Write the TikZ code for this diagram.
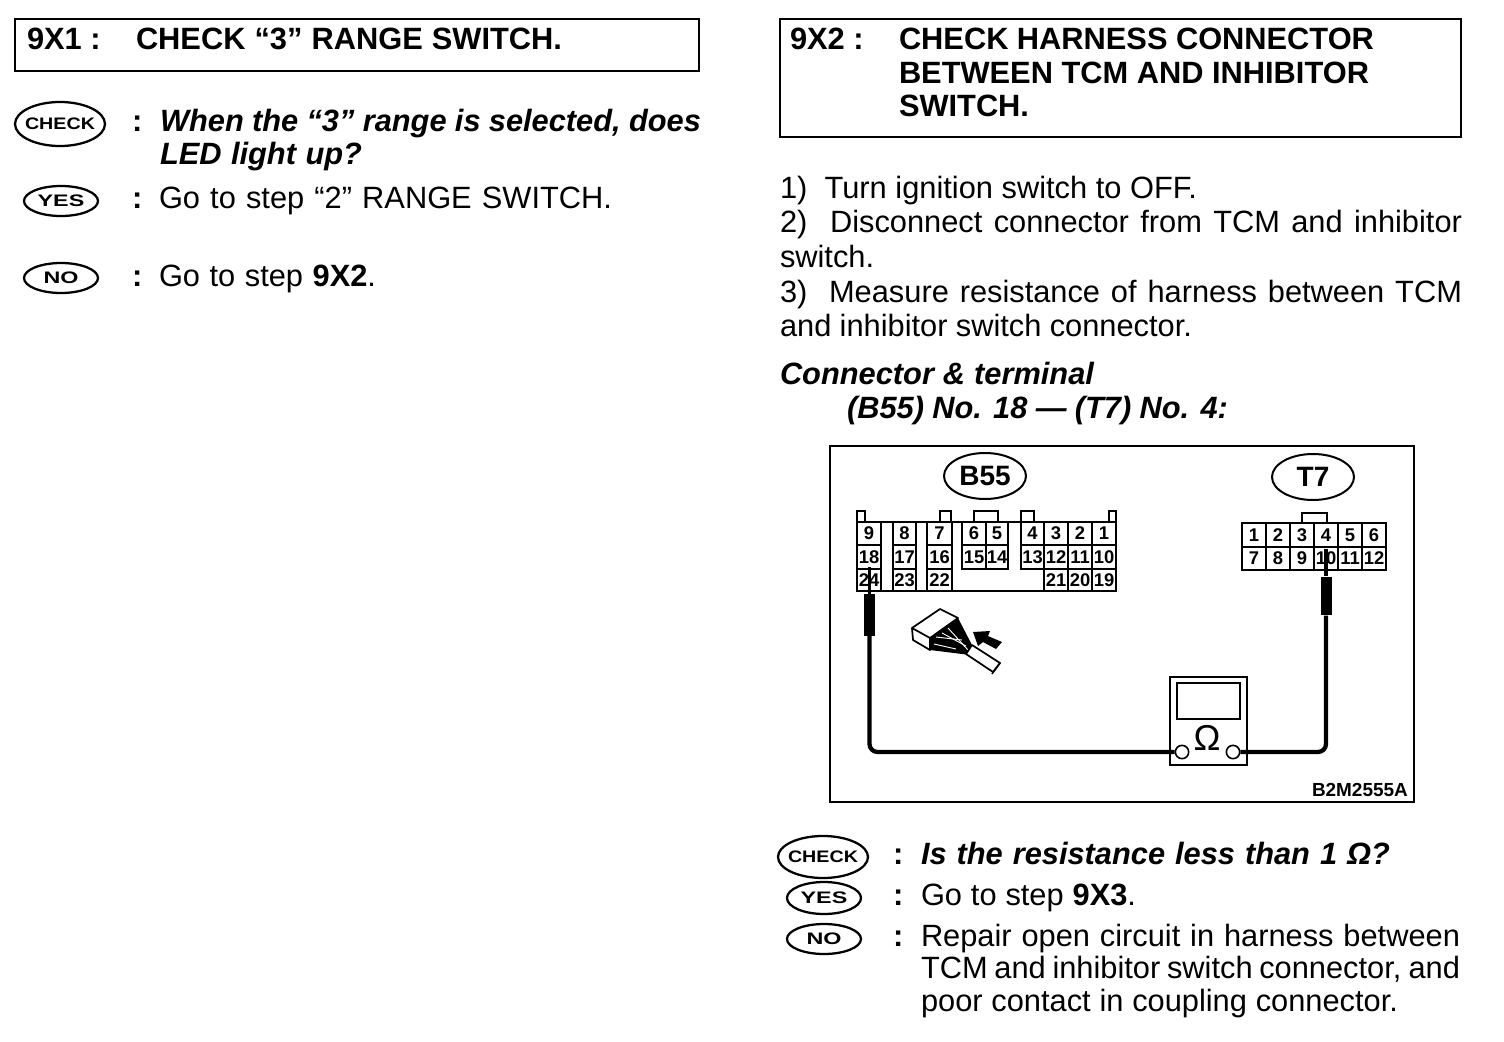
\documentclass[tikz,border=0pt]{standalone}
\usepackage{fontspec}
\setmainfont{Liberation Sans}
\usetikzlibrary{shapes.geometric}
\newcommand{\bodyf}{\fontsize{23.1}{28}\selectfont}
\newcommand{\boldf}{\fontsize{23.1}{28}\selectfont\bfseries}
\newcommand{\bitf}{\fontsize{23.1}{28}\selectfont\bfseries\itshape}
\newcommand{\pxw}[1]{\dimexpr #1pt*3/4\relax}
% name, x, baseline y, width in px, font, text
\newcommand{\jl}[6]{\node[txt] (#1) at (#2,#3) {#5\makebox[\pxw{#4}][s]{#6}};}
\newcommand{\pl}[5]{\node[txt] (#1) at (#2,#3) {#4#5};}
% badge: name, cx, cy, rx, ry, hscale, text
\newcommand{\badge}[7]{\node[badgeo, minimum width=#4*1.5pt, minimum height=#5*1.5pt] (#1) at (#2,#3) {\makebox[0pt][c]{\fontsize{12.5}{14}\selectfont\bfseries\scalebox{#6}[1]{#7}}};}
\tikzset{
  x=0.75pt, y=-0.75pt,
  txt/.style={anchor=base west, inner sep=0pt, outer sep=0pt},
  frameb/.style={draw=black, line width=2.1pt},
  badgeo/.style={draw=black, ellipse, line width=1.7pt, inner sep=0pt},
  callout/.style={draw=black, ellipse, line width=1.5pt, inner sep=0pt, minimum width=61.5pt, minimum height=34.5pt, font=\fontsize{21}{24}\selectfont\bfseries},
  cellline/.style={draw=black, line width=1.3pt},
  celltext/.style={inner sep=0pt, font=\fontsize{13.8}{15}\selectfont\bfseries},
  wire/.style={draw=black, line width=3.2pt, rounded corners=6pt},
  pin/.style={draw=black, line width=2.8pt},
  probe/.style={fill=black, draw=none, inner sep=0pt},
  term/.style={circle, draw=black, fill=white, line width=1.2pt, minimum size=10pt, inner sep=0pt}
}
\begin{document}
\begin{tikzpicture}
\useasboundingbox[fill=white] (0,0) rectangle (1504,1042);

% ---------- left column ----------
\draw[frameb] (15,19) rectangle (699,71);
\pl{ta}{27}{50}{\boldf}{9X1 :}
\jl{tb}{136}{50}{426}{\boldf}{CHECK “3” RANGE SWITCH.}

\badge{bcheckA}{60}{124}{45}{22}{1.18}{CHECK}
\pl{c1}{132}{131}{\boldf}{:}
\jl{l1}{160}{131}{541}{\bitf}{When the “3” range is selected, does}
\jl{l2}{160}{164}{202}{\bitf}{LED light up?}
\badge{byesA}{61}{201}{37}{15}{1.4}{YES}
\pl{c2}{132}{208}{\boldf}{:}
\jl{l3}{159}{208}{453}{\bodyf}{Go to step “2” RANGE SWITCH.}
\badge{bnoA}{61}{278}{37}{15}{1.4}{NO}
\pl{c3}{132}{286}{\boldf}{:}
\jl{l4}{159}{286}{217}{\bodyf}{Go to step \textbf{9X2}.}

% ---------- right column ----------
\draw[frameb] (780,19) rectangle (1461,137);
\pl{tc}{790}{50}{\boldf}{9X2 :}
\jl{td}{899}{50}{475}{\boldf}{CHECK HARNESS CONNECTOR}
\jl{te}{899}{83}{470}{\boldf}{BETWEEN TCM AND INHIBITOR}
\pl{tf}{899}{116}{\boldf}{SWITCH.}

\jl{r1}{780}{198}{417}{\bodyf}{1) \ Turn ignition switch to OFF.}
\jl{r2}{780}{232}{682}{\bodyf}{2) \ Disconnect connector from TCM and inhibitor}
\pl{r3}{780}{267}{\bodyf}{switch.}
\jl{r4}{780}{302}{682}{\bodyf}{3) \ Measure resistance of harness between TCM}
\jl{r5}{780}{336}{412}{\bodyf}{and inhibitor switch connector.}
\jl{r6}{780}{384}{314}{\bitf}{Connector \& terminal}
\jl{r7}{847}{418}{381}{\bitf}{(B55) No. 18 — (T7) No. 4:}

% ---------- figure ----------
\draw[frameb] (830,446) rectangle (1414,802);
\node[callout] (cB) at (985,476) {B55};
\node[callout] (cT) at (1313,477) {T7};

% B55 connector
\foreach \a/\b in {857/865,940/951,974/998,1021/1034,1109/1116}
  \draw[cellline] (\a,522) -- (\a,511) -- (\b,511) -- (\b,522);
\foreach \n/\xa/\xb/\ya/\yb in {
  9/857/881/522/545, 8/893/916/522/545, 7/927/952/522/545, 6/962/986/522/545, 5/986/1008/522/545,
  4/1021/1044/522/545, 3/1044/1068/522/545, 2/1068/1092/522/545, 1/1092/1116/522/545,
  18/857/881/545/569, 17/893/916/545/569, 16/927/952/545/569, 15/962/986/545/569, 14/986/1008/545/569,
  13/1021/1044/545/569, 12/1044/1068/545/569, 11/1068/1092/545/569, 10/1092/1116/545/569,
  24/857/881/569/591, 23/893/916/569/591, 22/927/952/569/591,
  21/1044/1068/569/591, 20/1068/1092/569/591, 19/1092/1116/569/591}{
  \draw[cellline] (\xa,\ya) rectangle (\xb,\yb);
  \node[celltext] (b\n) at ({(\xa+\xb)/2},{(\ya+\yb)/2}) {\n};
}
\draw[draw=black, line width=2pt] (857,522) -- (1116,522);
\draw[draw=black, line width=2pt] (857,591) -- (1116,591);

% T7 connector
\draw[cellline] (1302,523) -- (1302,513) -- (1327,513) -- (1327,523);
\foreach \n/\xa/\ya/\yb in {
  1/1242/523/547, 2/1266/523/547, 3/1290/523/547, 4/1314/523/547, 5/1338/523/547, 6/1362/523/547,
  7/1242/547/570, 8/1266/547/570, 9/1290/547/570, 10/1314/547/570, 11/1338/547/570, 12/1362/547/570}{
  \draw[cellline] (\xa,\ya) rectangle ({\xa+24},\yb);
  \node[celltext] (t\n) at ({\xa+12},{(\ya+\yb)/2}) {\n};
}

% small connector sketch
\draw[draw=black, line width=1.3pt, fill=white, line join=round]
  (912,628) -- (940,609) -- (958,618) -- (930,638) -- cycle
  (912,628) -- (930,638) -- (930,650) -- (913,640) -- cycle;
\fill[black] (930,638) -- (958,618) -- (972,645) -- (977,655) -- (970,655) -- (930,650) -- cycle;
\foreach \xa/\ya/\xb/\yb in {936/637/962/640, 942/633/966/646, 948/628/968/650, 934/644/956/649}
  \draw[draw=white, line width=0.7pt] (\xa,\ya) -- (\xb,\yb);
\draw[draw=black, line width=1.3pt, fill=white, line join=round]
  (972,645) -- (1000,663) -- (993,672) -- (966,654) -- cycle;
\draw[draw=black, line width=1.1pt] (1000,663) -- (992,674);
\fill[black] (973,632) -- (990,631) -- (988,636) -- (1002,642) -- (996,649) -- (983,642) -- (978,646) -- cycle;

% meter
\node[draw=black, line width=1.3pt, fill=white, inner sep=0pt, minimum width=57.75pt, minimum height=66pt] (meter) at (1208.5,721) {};
\node[draw=black, line width=1.7pt, inner sep=0pt, minimum width=47.25pt, minimum height=27pt] (screen) at (1208.5,701) {};
\node[inner sep=0pt, font=\fontsize{27}{29}\selectfont] (ohm) at (1207,738) {Ω};
\node[term] (tL) at (1182,752) {};
\node[term] (tR) at (1233,752) {};

% probes and leads
\node[probe, minimum width=8.25pt, minimum height=31pt] (pB) at (869.5,615) {};
\node[probe, minimum width=8.25pt, minimum height=29pt] (pT) at (1326,596) {};
\coordinate (tipB) at (869.5,567);
\coordinate (tipT) at (1326,549);
\draw[pin] (tipB) -- (pB.north);
\draw[pin] (tipT) -- (pT.north);
\draw[wire] (pB.south) |- (tL.west);
\draw[wire] (pT.south) |- (tR.east);

\node[txt, font=\fontsize{14.2}{16}\selectfont\bfseries] (code) at (1312,796) {\makebox[\pxw{95}][s]{B2M2555A\hfill}};

% ---------- below figure ----------
\badge{bcheckB}{823}{857}{45}{21}{1.18}{CHECK}
\pl{c4}{893}{864}{\boldf}{:}
\jl{b1}{921}{864}{469}{\bitf}{Is the resistance less than 1 Ω?}
\badge{byesB}{824}{898}{37}{16}{1.4}{YES}
\pl{c5}{893}{905}{\boldf}{:}
\jl{b2}{921}{905}{215}{\bodyf}{Go to step \textbf{9X3}.}
\badge{bnoB}{824}{939}{37}{15}{1.4}{NO}
\pl{c6}{893}{946}{\boldf}{:}
\jl{b3}{921}{946}{539}{\bodyf}{Repair open circuit in harness between}
\jl{b4}{921}{978}{539}{\bodyf}{TCM and inhibitor switch connector, and}
\jl{b5}{921}{1011}{477}{\bodyf}{poor contact in coupling connector.}
\end{tikzpicture}
\end{document}
